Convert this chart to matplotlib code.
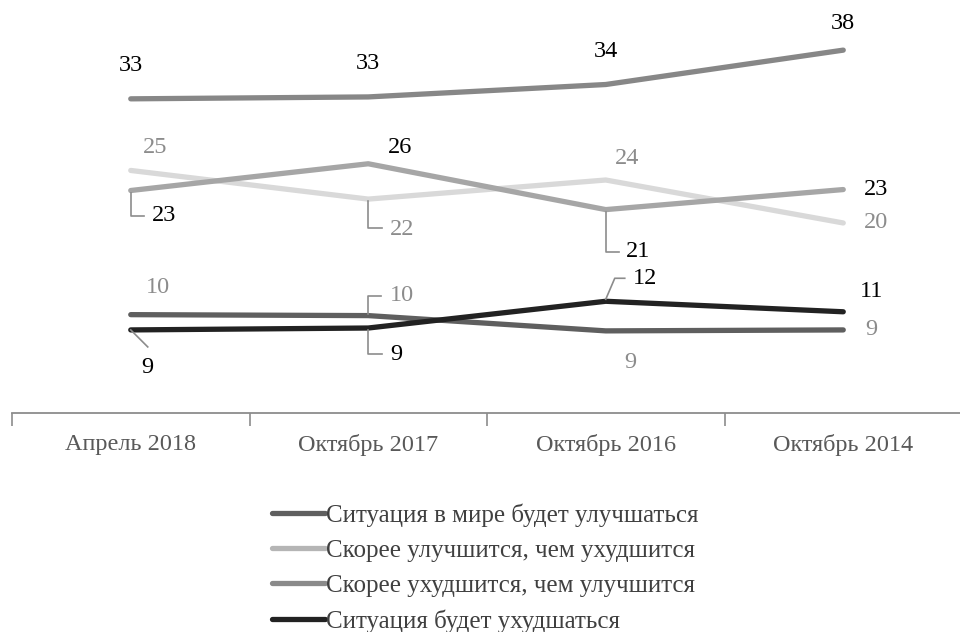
import matplotlib
matplotlib.use('Agg')
from matplotlib import pyplot as plt
from matplotlib.lines import Line2D
import numpy as np

plt.rcParams['font.family'] = ['Liberation Serif', 'DejaVu Serif']

categories = ['Апрель 2018', 'Октябрь 2017', 'Октябрь 2016', 'Октябрь 2014']

# values (labels are rounded)
top_vals = [32.9, 33.1, 34.4, 38.0]
better_vals = [25.4, 22.4, 24.4, 19.9]
worse_vals = [23.3, 26.1, 21.3, 23.4]
world_vals = [10.3, 10.2, 8.6, 8.7]
bad_vals = [8.7, 8.9, 11.7, 10.6]

legend_labels = ['Ситуация в мире будет улучшаться',
                 'Скорее улучшится, чем ухудшится',
                 'Скорее ухудшится, чем улучшится',
                 'Ситуация будет ухудшаться']
legend_colors = ['#5f5f5f', '#b5b5b5', '#8a8a8a', '#222222']

GREY_TXT = '#8c8c8c'

fig = plt.figure(figsize=(9.6, 6.32), dpi=100)
ax = fig.add_axes([12 / 960, (632 - 413) / 632, 950 / 960, 413 / 632])
ax.set_xlim(-0.5, 3.5)
ax.set_ylim(0, 43.25)
x = np.arange(len(categories))

series = [
    (top_vals, '#878787'),
    (better_vals, '#d9d9d9'),
    (worse_vals, '#a6a6a6'),
    (world_vals, '#5f5f5f'),
    (bad_vals, '#222222'),
]
for vals, c in series:
    ax.plot(x, vals, color=c, lw=3.8, solid_capstyle='round', solid_joinstyle='round', zorder=3)


def px_to_data(i, v, dx, dy):
    # dx right, dy down in image pixels
    X, Y = ax.transData.transform((i, v))
    return ax.transData.inverted().transform((X + dx, Y - dy))


def label(i, v, dx, dy, color='black', leader=None):
    tx, ty = px_to_data(i, v, dx, dy)
    ax.text(tx, ty, str(int(round(v))), color=color, fontsize=17.5,
            ha='center', va='center', zorder=5)
    if leader is not None:
        pts = [px_to_data(i, v, a, b) for a, b in leader]
        ax.plot([p[0] for p in pts], [p[1] for p in pts], color=GREY_TXT,
                lw=1.2, zorder=4)


# top series
label(0, top_vals[0], 0, -33)
label(1, top_vals[1], 0, -33)
label(2, top_vals[2], 0, -33)
label(3, top_vals[3], 0, -27)
# better
label(0, better_vals[0], 24, -23, GREY_TXT)
label(1, better_vals[1], 34, 30, GREY_TXT, leader=[(0, 2), (0, 29), (14, 29)])
label(2, better_vals[2], 21, -22, GREY_TXT)
label(3, better_vals[3], 33, 0, GREY_TXT)
# worse
label(0, worse_vals[0], 33, 25, leader=[(0, 2), (0, 25), (13, 25)])
label(1, worse_vals[1], 32, -16)
label(2, worse_vals[2], 32, 42, leader=[(0, 2), (0, 42), (13, 42)])
label(3, worse_vals[3], 33, 0)
# world
label(0, world_vals[0], 27, -27, GREY_TXT)
label(1, world_vals[1], 34, -20, GREY_TXT, leader=[(0, -2), (0, -20), (13, -20)])
label(2, world_vals[2], 25, 32, GREY_TXT)
label(3, world_vals[3], 28, 0, GREY_TXT)
# bad
label(0, bad_vals[0], 17, 38, leader=[(0, 0), (17, 17)])
label(1, bad_vals[1], 28, 26, leader=[(0, 2), (0, 26), (14, 26)])
label(2, bad_vals[2], 39, -23, leader=[(0, -2), (9, -23), (19, -23)])
label(3, bad_vals[3], 28, -20)

for s in ['top', 'right', 'left']:
    ax.spines[s].set_visible(False)
ax.spines['bottom'].set_color('#8c8c8c')
ax.spines['bottom'].set_linewidth(1.3)
ax.set_yticks([])
ax.set_xticks([-0.5, 0.5, 1.5, 2.5])
ax.set_xticklabels([])
ax.tick_params(axis='x', which='major', length=9.5, width=1.2, color='#8c8c8c', direction='out')
ax.set_xticks(x, minor=True)
ax.set_xticklabels(categories, minor=True)
ax.tick_params(axis='x', which='minor', length=0, pad=15, labelsize=17.5, labelcolor='#595959')

handles = [Line2D([], [], color=c, lw=3.8, solid_capstyle='round') for c in legend_colors]
fig.legend(handles, legend_labels, loc='upper left', bbox_to_anchor=(259 / 960, 1 - 491 / 632),
           frameon=False, fontsize=18, handlelength=2.15, handletextpad=0.05,
           labelspacing=0.5, borderpad=0, labelcolor='#404040')

plt.savefig('out.png', dpi=100)
